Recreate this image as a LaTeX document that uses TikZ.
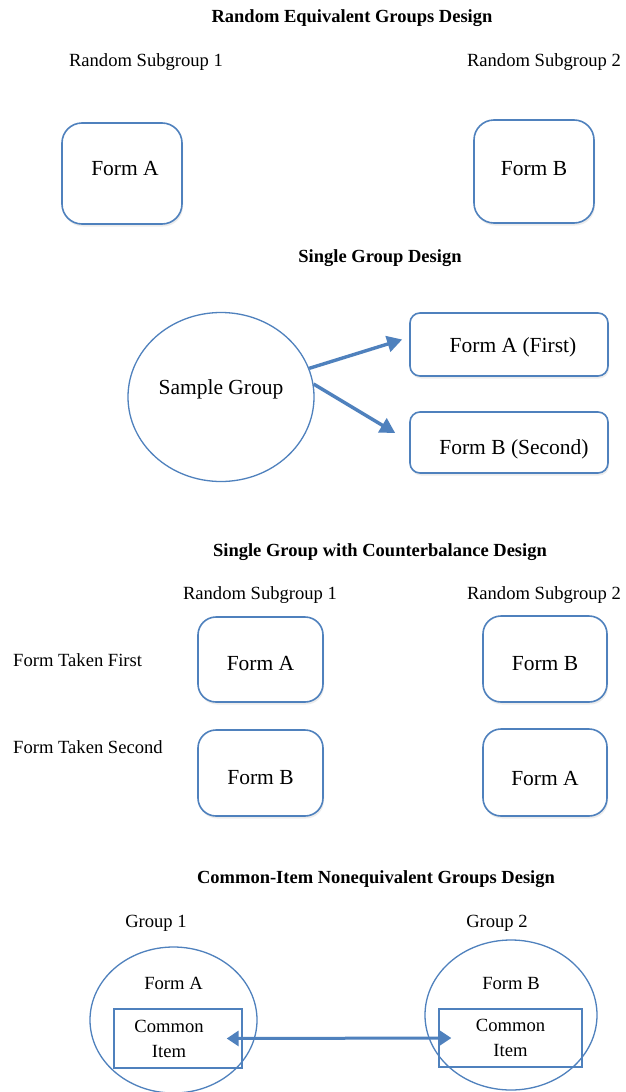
\documentclass[tikz,border=0pt]{standalone}
\usepackage{fontspec}
\setmainfont{Liberation Serif}
\usetikzlibrary{shapes.geometric,arrows.meta,shadows}
\definecolor{ofblue}{RGB}{79,129,189}
\begin{document}
\begin{tikzpicture}[x=1pt,y=-1pt,
  ttl/.style={font=\fontsize{18.5}{22}\selectfont\bfseries, inner sep=0},
  lbl/.style={font=\fontsize{18.6}{22}\selectfont, inner sep=0},
  formbox/.style={draw=ofblue, line width=1.6pt, fill=white, rounded corners=#1, inner sep=0,
    font=\rmfamily\fontsize{21.5}{24}\selectfont,
    drop shadow={shadow xshift=1pt, shadow yshift=-2.5pt, opacity=0.15}},
  formbox/.default=18pt,
  grp/.style={draw=ofblue, line width=1.3pt, ellipse, inner sep=0, font=\fontsize{18.6}{22}\selectfont},
  cibox/.style={draw=ofblue, line width=1.3pt, rectangle, inner sep=0, align=center, font=\fontsize{18.6}{25}\selectfont},
  arr/.style={draw=ofblue, line width=3.4pt, -{Triangle[length=15pt,width=16pt]}},
  dbl/.style={draw=ofblue, line width=3pt, {Triangle[length=12pt,width=15pt]}-{Triangle[length=12pt,width=15pt]}}
]
\fill[white] (0,0) rectangle (625,1092);
\path[use as bounding box] (0,0) rectangle (625,1092);

% Section 1
\node[ttl] (t1) at (352,18) {Random Equivalent Groups Design};
\node[lbl] (s1a) at (146,62) {Random Subgroup 1};
\node[lbl] (s1b) at (544,62) {Random Subgroup 2};
\node[formbox=20pt, minimum width=120pt, text height=52pt, text depth=49pt] (r1a) at (122,173.5) {\hspace{6pt}Form A};
\node[formbox=20pt, minimum width=120pt, text height=55pt, text depth=48pt] (r1b) at (534,171.5) {Form B\hspace{6pt}};

% Section 2
\node[ttl] (t2) at (380,258) {Single Group Design};
\node[draw=ofblue, line width=1.3pt, ellipse, minimum width=186pt, minimum height=169pt, inner sep=0,
  text height=40pt, text depth=46pt, font=\fontsize{21.5}{24}\selectfont] (sg) at (221,397) {Sample Group\hspace{6pt}};
\node[formbox=10pt, minimum width=198pt, text height=39pt, text depth=24pt] (fa) at (509,344.5) {\hspace{8pt}Form A (First)};
\node[formbox=10pt, minimum width=198pt, text height=42pt, text depth=19pt] (fb) at (509,442.5) {\hspace{10pt}Form B (Second)};
\draw[arr] (sg.18) -- ([xshift=-7pt,yshift=5pt]fa.west);
\draw[arr] (sg.8) -- ([xshift=-14pt,yshift=9.5pt]fb.west);

% Section 3
\node[ttl] (t3) at (380,552) {Single Group with Counterbalance Design};
\node[lbl] (s3a) at (260,595) {Random Subgroup 1};
\node[lbl] (s3b) at (544,595) {Random Subgroup 2};
\node[lbl, anchor=west] (ft1) at (13,660) {Form Taken First};
\node[lbl, anchor=west] (ft2) at (13,747) {Form Taken Second};
\node[formbox, minimum width=125pt, text height=53pt, text depth=32pt] (c11) at (260.5,659.5) {Form A\hspace{15pt}};
\node[formbox, minimum width=125pt, text height=54pt, text depth=32pt] (c21) at (260.5,773) {Form B\hspace{15pt}};
\node[formbox, minimum width=124pt, text height=54pt, text depth=32pt] (c12) at (545,659) {Form B\hspace{15pt}};
\node[formbox, minimum width=124pt, text height=56pt, text depth=31pt] (c22) at (545,772.5) {Form A\hspace{15pt}};

% Section 4
\node[ttl] (t4) at (376,879) {Common-Item Nonequivalent Groups Design};
\node[lbl] (g1) at (156,923) {Group 1};
\node[lbl] (g2) at (497,923) {Group 2};
\node[cibox, minimum width=128pt, minimum height=59pt] (cl) at (178,1038.5) {Common\kern18pt\\Item\kern18pt};
\node[cibox, minimum width=143pt, minimum height=58pt] (cr) at (510.5,1038) {Common\\Item};
\node[grp, minimum width=167pt, minimum height=146pt, text height=14pt, text depth=76pt] (e1) at (173.5,1020) {Form A\hspace{11pt}};
\node[grp, minimum width=172pt, minimum height=150pt, text height=14pt, text depth=66pt] (e2) at (511,1015) {Form B\hspace{6pt}};
\draw[dbl] ([xshift=-16pt]cl.east) -- ([xshift=13pt]cr.west);
\end{tikzpicture}
\end{document}
